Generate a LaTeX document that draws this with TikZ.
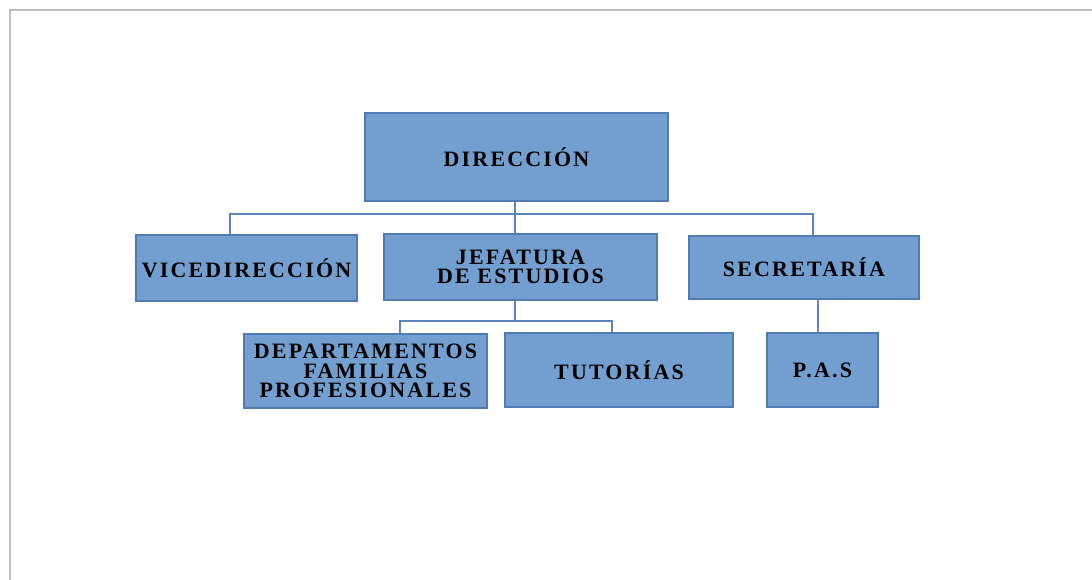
\documentclass[tikz,border=0pt]{standalone}
\usepackage{fontspec}
\newfontfamily\orgfont{Liberation Serif}[LetterSpace=10]
\usepackage{tikz}
\usetikzlibrary{calc}
\definecolor{boxfill}{HTML}{729FCF}
\definecolor{boxline}{HTML}{4F7AB3}
\definecolor{linkcol}{HTML}{5A84BE}

\begin{document}
\begin{tikzpicture}[x=0.02cm,y=-0.02cm,
  unit/.style={draw=boxline,fill=boxfill,line width=1pt,inner sep=0pt,
    align=center,font=\orgfont\bfseries\fontsize{12.5}{11}\selectfont},
  link/.style={draw=linkcol,line width=1.3pt}]
  \useasboundingbox (0,0) rectangle (1092,580);
  \draw[black!25,line width=0.8pt] (10,580) -- (10,10) -- (1092,10);
  \node[unit,minimum width=6.06cm,minimum height=1.76cm] (dir) at (516.5,157) {DIRECCIÓN};
  \node[unit,minimum width=4.42cm,minimum height=1.32cm] (vice) at (246.5,268) {VICEDIRECCIÓN};
  \node[unit,minimum width=5.46cm,minimum height=1.32cm] (jef) at (520.5,267) {JEFATURA\\DE ESTUDIOS};
  \node[unit,minimum width=4.60cm,minimum height=1.26cm] (sec) at (804,267.5) {SECRETARÍA};
  \node[unit,minimum width=4.86cm,minimum height=1.48cm] (dep) at (365.5,371) {DEPARTAMENTOS\\FAMILIAS\\PROFESIONALES};
  \node[unit,minimum width=4.56cm,minimum height=1.48cm] (tut) at (619,370) {TUTORÍAS};
  \node[unit,minimum width=2.22cm,minimum height=1.48cm] (pas) at (822.5,370) {P.A.S};
  \coordinate (t1) at (515,214);
  \coordinate (b1w) at (230,214);
  \coordinate (b1e) at (813,214);
  \coordinate (t2) at (515,321);
  \coordinate (b2w) at (400,321);
  \coordinate (b2e) at (612,321);
  \coordinate (t3) at (818,300);
  \draw[link] (dir.south -| t1) -- (t1 |- jef.north);
  \draw[link] (vice.north -| b1w) -- (b1w) -- (b1e) -- (b1e |- sec.north);
  \draw[link] (jef.south -| t2) -- (t2);
  \draw[link] (dep.north -| b2w) -- (b2w) -- (b2e) -- (b2e |- tut.north);
  \draw[link] (sec.south -| t3) -- (t3 |- pas.north);
\end{tikzpicture}
\end{document}
